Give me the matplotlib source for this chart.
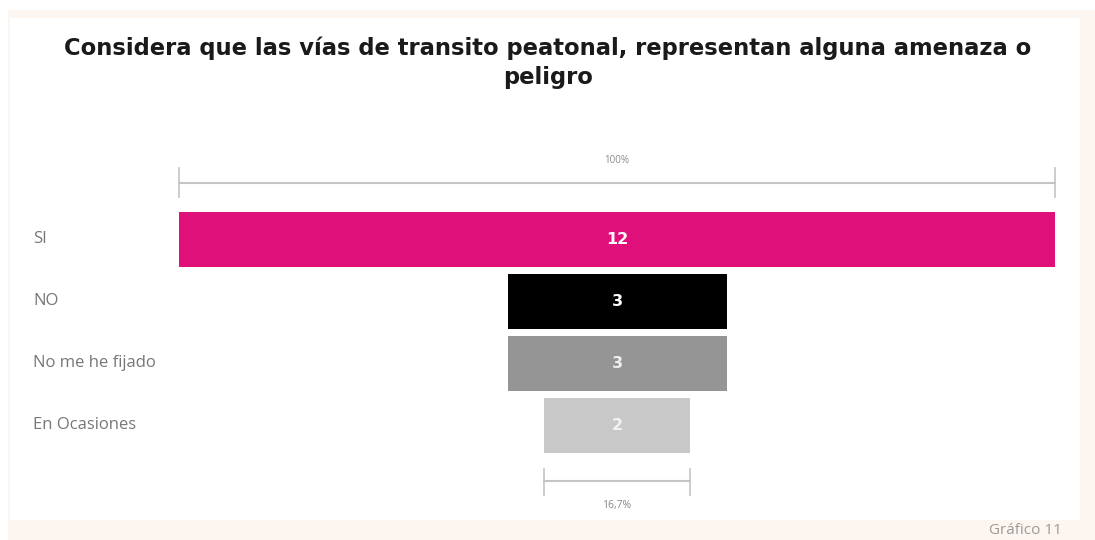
import matplotlib.pyplot as plt
from matplotlib.patches import Rectangle
from matplotlib.transforms import blended_transform_factory

categories = ["SI", "NO", "No me he fijado", "En Ocasiones"]
values = [12, 3, 3, 2]
colors = ["#E0107A", "#000000", "#959595", "#C8C8C8"]
label_colors = ["white", "white", "#EEEEEE", "#F2F2F2"]

W, H = 1095, 540
fig = plt.figure(figsize=(W / 100, H / 100), dpi=100, facecolor="white")

# cream frame + white panel (figure pixel coords)
fig.patches.append(Rectangle((8 / W, 0), 1 - 8 / W, 1 - 10 / H, transform=fig.transFigure,
                             facecolor="#FDF6F0", edgecolor="none", zorder=-10))
fig.patches.append(Rectangle((10 / W, 20 / H), 1070 / W, (522 - 20) / H, transform=fig.transFigure,
                             facecolor="white", edgecolor="none", zorder=-9))

fig.text(548 / W, 1 - 48 / H, "Considera que las vías de transito peatonal, representan alguna amenaza o",
         ha="center", va="center", fontsize=16.3, fontweight="bold", color="#1a1a1a",
         family="DejaVu Sans")
fig.text(548 / W, 1 - 78 / H, "peligro",
         ha="center", va="center", fontsize=16.3, fontweight="bold", color="#1a1a1a",
         family="DejaVu Sans")
fig.text(1062 / W, 1 - 531 / H, "Gráfico 11", ha="right", va="center", fontsize=11,
         color="#9a9a9a", family="Open Sans")

# axes: 1 y-unit = 62 px, x centered on 0
top_px, bot_px = 150, 510
ax = fig.add_axes([179 / W, 1 - bot_px / H, 876 / W, (bot_px - top_px) / H])
ax.set_facecolor("none")
y_top = -(239.5 - top_px) / 62
y_bot = y_top + (bot_px - top_px) / 62
ax.set_ylim(y_bot, y_top)
vmax = max(values)
ax.set_xlim(-vmax / 2, vmax / 2)
ax.axis("off")


def py(p):
    # pixel row -> data y
    return y_top + (p - top_px) / 62


ypos = list(range(len(categories)))
ax.barh(ypos, values, left=[-v / 2 for v in values], height=55 / 62, color=colors)

for y, v, lc in zip(ypos, values, label_colors):
    ax.text(0, y, str(v), ha="center", va="center", color=lc, fontsize=11.5, fontweight="bold")

trans = blended_transform_factory(fig.transFigure, ax.transData)
for y, c in zip(ypos, categories):
    ax.text(33 / W, y, c, transform=trans, ha="left", va="center", fontsize=12,
            color="#777777", family="Open Sans")

# top bracket (100%)
line_c = "#C4C4C4"
ax.plot([-vmax / 2, vmax / 2], [py(183), py(183)], color=line_c, lw=1.5, clip_on=False)
for xe in (-vmax / 2, vmax / 2):
    ax.plot([xe, xe], [py(168), py(197)], color=line_c, lw=1.2, clip_on=False)
ax.text(0, py(161), "100%", ha="center", va="center", fontsize=7, color="#888888",
        family="Open Sans")

# bottom bracket (min / max)
vmin = min(values)
ax.plot([-vmin / 2, vmin / 2], [py(481), py(481)], color=line_c, lw=1.5, clip_on=False)
for xe in (-vmin / 2, vmin / 2):
    ax.plot([xe, xe], [py(469), py(495)], color=line_c, lw=1.2, clip_on=False)
pct = f"{vmin / vmax * 100:.1f}%".replace(".", ",")
ax.text(0, py(506), pct, ha="center", va="center", fontsize=7.5,
        color="#888888", family="Open Sans")

fig.savefig("out.png", dpi=100, facecolor=fig.get_facecolor())
